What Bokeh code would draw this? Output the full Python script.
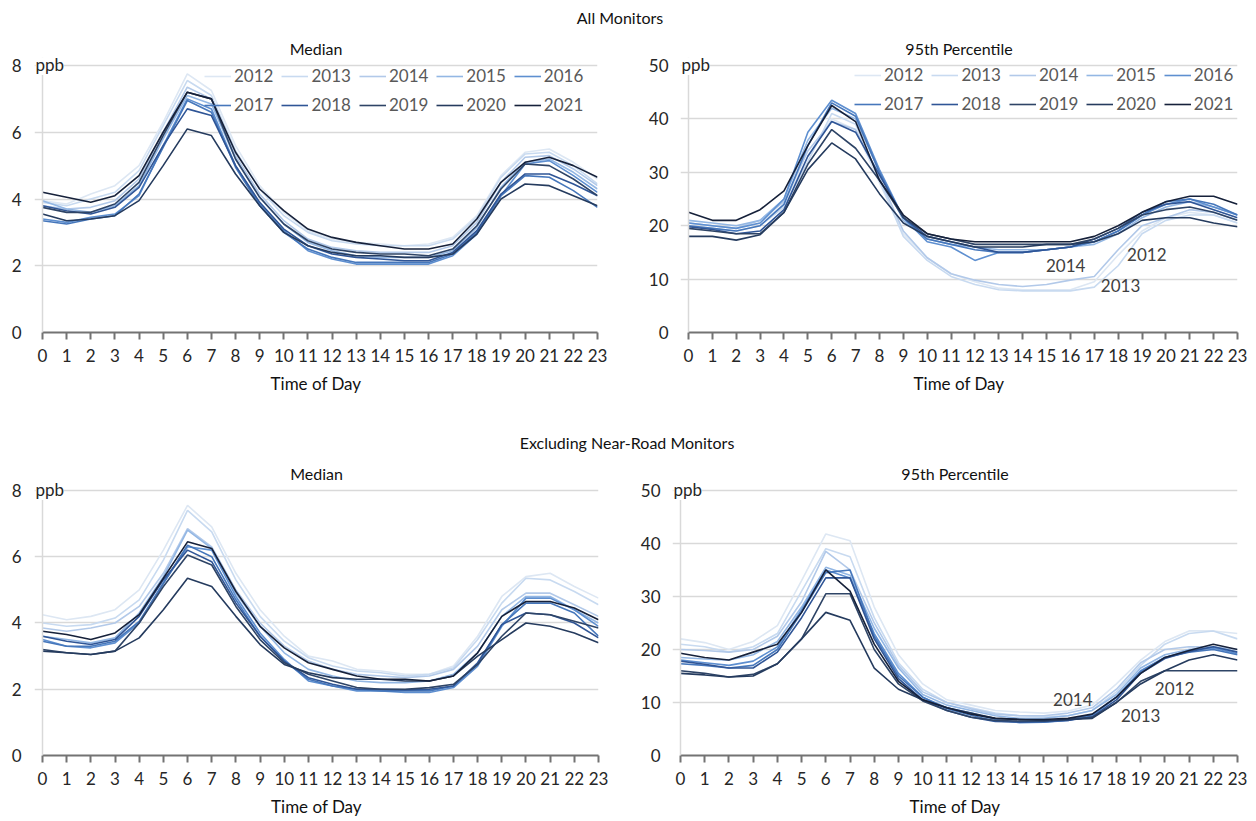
from bokeh.plotting import figure
from bokeh.models import Legend, LegendItem, Label, FixedTicker, Div, Span
from bokeh.layouts import column, row
from bokeh.embed import file_html
from bokeh.resources import INLINE

FONT = "Lato"

HOURS = [0, 1, 2, 3, 4, 5, 6, 7, 8, 9, 10, 11, 12, 13, 14, 15, 16, 17, 18, 19, 20, 21, 22, 23]
YEARS = ["2012", "2013", "2014", "2015", "2016", "2017", "2018", "2019", "2020", "2021"]
COLORS = ["#dde7f3", "#c8daf0", "#b2c9e9", "#93b7e4", "#5e8fd0", "#4677bb",
          "#2f5596", "#2e4466", "#253b5e", "#16213a"]

# All monitors - median (ppb)
all_median = {
    "2012": [3.95, 3.85, 4.15, 4.4, 5.0, 6.3, 7.75, 7.25, 5.6, 4.4, 3.6, 3.05, 2.8, 2.7, 2.65, 2.6, 2.65, 2.85, 3.5, 4.7, 5.4, 5.5, 5.1, 4.6],
    "2013": [3.9, 3.8, 4.0, 4.2, 4.85, 6.2, 7.55, 7.1, 5.45, 4.3, 3.5, 3.0, 2.75, 2.65, 2.6, 2.6, 2.6, 2.8, 3.45, 4.65, 5.35, 5.4, 5.0, 4.45],
    "2014": [3.8, 3.7, 3.75, 3.95, 4.6, 6.0, 7.35, 7.0, 5.3, 4.15, 3.35, 2.8, 2.55, 2.45, 2.4, 2.4, 2.4, 2.6, 3.3, 4.5, 5.25, 5.3, 4.9, 4.4],
    "2015": [3.95, 3.7, 3.6, 3.8, 4.4, 5.8, 7.1, 6.85, 5.2, 4.05, 3.25, 2.7, 2.45, 2.3, 2.25, 2.25, 2.25, 2.45, 3.15, 4.35, 5.1, 5.2, 4.8, 4.3],
    "2016": [3.4, 3.3, 3.45, 3.55, 4.1, 5.6, 7.0, 6.7, 5.0, 3.85, 3.05, 2.45, 2.2, 2.05, 2.05, 2.05, 2.05, 2.3, 2.95, 4.1, 5.05, 5.15, 4.7, 4.2],
    "2017": [3.35, 3.25, 3.4, 3.5, 4.15, 5.55, 6.95, 6.6, 4.95, 3.8, 3.0, 2.5, 2.25, 2.1, 2.1, 2.1, 2.1, 2.35, 3.0, 4.1, 4.7, 4.65, 4.25, 3.75],
    "2018": [3.8, 3.65, 3.55, 3.75, 4.35, 5.6, 6.7, 6.5, 5.0, 3.9, 3.1, 2.6, 2.35, 2.25, 2.2, 2.15, 2.15, 2.4, 3.05, 4.15, 4.75, 4.75, 4.45, 4.1],
    "2019": [3.75, 3.6, 3.6, 3.85, 4.5, 5.9, 7.2, 7.0, 5.2, 4.05, 3.25, 2.75, 2.5, 2.4, 2.35, 2.35, 2.3, 2.5, 3.2, 4.3, 5.05, 5.0, 4.6, 4.1],
    "2020": [3.55, 3.35, 3.4, 3.5, 3.95, 5.0, 6.1, 5.9, 4.75, 3.8, 3.0, 2.6, 2.4, 2.3, 2.3, 2.25, 2.25, 2.35, 2.95, 4.0, 4.45, 4.4, 4.1, 3.8],
    "2021": [4.2, 4.05, 3.9, 4.1, 4.7, 6.0, 7.2, 7.0, 5.4, 4.3, 3.65, 3.1, 2.85, 2.7, 2.6, 2.5, 2.5, 2.65, 3.4, 4.5, 5.1, 5.25, 5.0, 4.65],
}

# All monitors - 95th percentile (ppb)
all_p95 = {
    "2012": [20.5, 20, 19.5, 20.5, 24, 33, 40, 38, 28, 18.5, 14, 11, 9.5, 8.3, 8.0, 8.0, 8.0, 9.5, 14.5, 19, 21.5, 22.5, 22, 20.5],
    "2013": [20, 19.5, 19, 20, 23.5, 32, 41, 39, 28.5, 18, 13.5, 10.5, 9.0, 8.0, 7.8, 7.8, 7.8, 8.5, 12.5, 18.5, 21, 22, 22, 20.5],
    "2014": [20.5, 20, 19.5, 21, 24.5, 34, 39.5, 38, 29, 19, 14, 11, 9.8, 9.0, 8.6, 9.0, 9.8, 10.5, 15.5, 20, 21.5, 23, 22.5, 21],
    "2015": [21, 20.5, 20, 21, 25, 36, 42, 40, 30, 21, 17.5, 16.5, 16, 15.5, 15.5, 15.5, 16, 16.5, 18.5, 21.5, 23.5, 24.5, 23.5, 22],
    "2016": [20.5, 20, 19.5, 20.5, 25, 37.5, 43.5, 41, 30.5, 21.5, 17, 16, 13.5, 15, 15, 15.5, 16, 17, 19, 22, 24, 25, 23.5, 22],
    "2017": [20, 19.5, 19, 20, 24, 35, 43, 40.5, 30, 21.5, 17.5, 16.5, 15.5, 15, 15, 15.5, 16, 17, 19, 22, 24.5, 25, 24, 22],
    "2018": [19.8, 19.3, 18.5, 19, 23, 33, 39.5, 37.5, 29.5, 21.5, 18, 17, 16, 15, 15, 15.5, 16, 17.5, 19.5, 22.5, 24, 24.5, 23, 21.5],
    "2019": [19.5, 19, 18.5, 18.5, 22.5, 31.5, 38, 34.5, 28.5, 21.5, 18.5, 17.5, 16.5, 16.5, 16.5, 16.5, 16.5, 17.5, 19.5, 22, 23, 23.5, 22.5, 21],
    "2020": [18, 18, 17.3, 18.3, 22.5, 30.5, 35.5, 32.5, 26, 20.5, 18, 17, 16, 16, 16, 16.5, 16.5, 17, 18.5, 21, 21.5, 21.5, 20.5, 19.8],
    "2021": [22.5, 21, 21, 23, 26.5, 35, 42.5, 39.5, 28.5, 22, 18.5, 17.5, 17, 17, 17, 17, 17, 18, 20, 22.5, 24.5, 25.5, 25.5, 24],
}

# Excluding near-road monitors - median (ppb)
excl_median = {
    "2012": [4.25, 4.1, 4.2, 4.4, 5.0, 6.2, 7.55, 6.9, 5.5, 4.4, 3.6, 3.0, 2.85, 2.6, 2.55, 2.45, 2.45, 2.7, 3.6, 4.8, 5.4, 5.5, 5.1, 4.75],
    "2013": [4.0, 3.9, 3.95, 4.15, 4.7, 5.9, 7.4, 6.75, 5.3, 4.2, 3.45, 2.95, 2.7, 2.55, 2.5, 2.4, 2.45, 2.65, 3.5, 4.6, 5.35, 5.3, 4.95, 4.55],
    "2014": [3.85, 3.75, 3.85, 4.0, 4.5, 5.5, 6.85, 6.3, 5.0, 4.0, 3.3, 2.85, 2.6, 2.45, 2.4, 2.35, 2.4, 2.6, 3.3, 4.4, 4.9, 4.9, 4.55, 4.2],
    "2015": [3.6, 3.5, 3.4, 3.55, 4.3, 5.4, 6.8, 6.25, 4.9, 3.9, 3.1, 2.6, 2.4, 2.25, 2.2, 2.2, 2.25, 2.45, 3.1, 4.2, 4.8, 4.8, 4.4, 4.0],
    "2016": [3.5, 3.3, 3.25, 3.4, 4.0, 5.2, 6.3, 6.2, 4.8, 3.7, 2.9, 2.25, 2.1, 1.95, 1.95, 1.9, 1.9, 2.05, 2.7, 3.9, 4.75, 4.75, 4.4, 3.9],
    "2017": [3.45, 3.3, 3.3, 3.45, 4.05, 5.2, 6.35, 6.0, 4.7, 3.6, 2.85, 2.3, 2.1, 2.0, 1.95, 1.95, 1.95, 2.1, 2.75, 3.95, 4.6, 4.6, 4.3, 3.6],
    "2018": [3.6, 3.45, 3.35, 3.5, 4.2, 5.3, 6.2, 5.85, 4.6, 3.6, 2.85, 2.35, 2.15, 2.0, 2.0, 1.98, 2.0, 2.1, 2.8, 3.95, 4.3, 4.25, 4.0, 3.55],
    "2019": [3.2, 3.1, 3.05, 3.15, 4.0, 5.1, 6.05, 5.75, 4.5, 3.5, 2.8, 2.45, 2.25, 2.05, 2.0, 2.0, 2.05, 2.15, 2.75, 3.6, 4.3, 4.25, 4.05, 3.85],
    "2020": [3.15, 3.1, 3.05, 3.15, 3.55, 4.4, 5.35, 5.1, 4.2, 3.35, 2.75, 2.5, 2.35, 2.3, 2.3, 2.25, 2.25, 2.4, 3.0, 3.5, 4.0, 3.9, 3.7, 3.4],
    "2021": [3.75, 3.65, 3.5, 3.7, 4.25, 5.35, 6.45, 6.25, 4.95, 3.9, 3.25, 2.8, 2.6, 2.4, 2.3, 2.3, 2.25, 2.4, 3.1, 4.2, 4.65, 4.65, 4.45, 4.1],
}

# Excluding near-road monitors - 95th percentile (ppb)
excl_p95 = {
    "2012": [22, 21.3, 20, 21.5, 24.5, 33, 41.8, 40.5, 28, 19, 13.5, 10.5, 9.5, 8.5, 8.2, 8.0, 8.4, 9.5, 13.5, 18, 21.5, 23.5, 23.5, 23],
    "2013": [21, 20.5, 19.5, 20.5, 23, 31, 39, 37.5, 26, 17.5, 12.5, 10, 9, 8, 7.5, 7.3, 7.5, 8.5, 12, 17, 21, 23, 23.5, 22],
    "2014": [20, 19.8, 19.5, 20, 22.5, 29, 38.5, 35, 25, 17, 12, 10, 8.8, 7.8, 7.5, 7.5, 8, 9, 12.5, 17.5, 20, 20.5, 20.5, 20],
    "2015": [18.5, 18.2, 18, 19, 21.5, 28, 35.5, 34, 24, 16.5, 11.5, 9.5, 8.5, 7.5, 7.0, 7, 7.5, 8.5, 11.5, 16.5, 19, 20, 20.5, 19.5],
    "2016": [18, 17.5, 17, 17.8, 20.5, 27.5, 35, 33.5, 23, 15.5, 11, 9, 8, 6.8, 6.2, 6.3, 6.6, 7.5, 11, 16, 18.5, 19.8, 20.3, 19.2],
    "2017": [17.3, 17, 16.5, 17, 20, 27, 34.5, 35, 22.5, 15, 11, 8.8, 7.6, 6.5, 6.3, 6.3, 6.7, 7.7, 11, 15.8, 18.5, 19.5, 20, 19],
    "2018": [17.8, 17.2, 16.5, 16.5, 19.5, 26, 33.5, 33.5, 22, 14.5, 10.5, 8.5, 7.2, 6.4, 6.3, 6.4, 6.6, 7.3, 10.5, 15.5, 18.3, 19.6, 20.5, 19.5],
    "2019": [16, 15.5, 14.8, 15.3, 17.3, 22, 30.5, 30.5, 20, 13.5, 10.3, 8.5, 7.2, 6.6, 6.5, 6.5, 6.8, 7.2, 10, 14, 16, 16, 16, 16],
    "2020": [15.5, 15.2, 14.8, 15, 17.3, 22, 27, 25.5, 16.5, 12.5, 10.5, 9, 8, 7, 6.8, 6.6, 6.8, 7, 10, 13.5, 16, 18, 19, 18],
    "2021": [19.3, 18.5, 18, 19.5, 21, 27, 35, 31, 21, 14, 10.5, 9, 7.8, 7, 6.8, 6.8, 7, 7.8, 11, 15.5, 18.5, 19.8, 21, 20],
}

Y_TICKS_MEDIAN = [0, 2, 4, 6, 8]
Y_TICKS_P95 = [0, 10, 20, 30, 40, 50]
X_LABEL = "Time of Day"
UNIT = "ppb"


def make_panel(data, yticks, title, width, height, frame_left, frame_right,
               frame_top, axis_top, frame_bottom, fig_top,
               legend_pos=None, notes=(), label_standoff=13):
    """frame_* are pixel positions on the page; axis_top is where the top
    tick value sits; the frame extends a little above it and left of hour 0."""
    ymax = yticks[-1]
    x0_px = frame_left + 8
    px_per_hr = (frame_right - x0_px) / 23.0
    x_start = -8.0 / px_per_hr
    px_per_unit = (frame_bottom - axis_top) / float(ymax)
    y_end = ymax + (axis_top - frame_top) / px_per_unit
    off = 0 if frame_left < 628 else 628
    p = figure(width=width, height=height, x_range=(x_start, 23), y_range=(0, y_end),
               output_backend="svg", toolbar_location=None,
               min_border_left=frame_left - off,
               min_border_right=width - (frame_right - off),
               min_border_top=frame_top - fig_top,
               min_border_bottom=fig_top + height - frame_bottom, title=title)
    p.outline_line_color = None
    p.background_fill_color = "white"
    p.border_fill_color = "white"
    p.title.align = "center"
    p.title.text_font = FONT
    p.title.text_font_size = "16px"
    p.title.text_font_style = "normal"
    p.title.text_color = "#111111"
    p.title.standoff = 0

    # grid
    p.xgrid.grid_line_color = None
    p.ygrid.grid_line_color = "#d9d9d9"
    p.ygrid.grid_line_width = 1.5
    p.ygrid.ticker = FixedTicker(ticks=yticks)
    p.ygrid.bounds = (0, 23)

    # vertical axis line at hour 0
    p.add_layout(Span(location=0, dimension="height", line_color="#d9d9d9", line_width=1.5))

    rends = []
    for yr, col in zip(YEARS, COLORS):
        rends.append(p.line(HOURS, data[yr], line_color=col, line_width=1.6))

    # x axis
    xa = p.xaxis[0]
    xa.ticker = FixedTicker(ticks=HOURS)
    xa.bounds = (0, 23)
    xa.axis_line_color = "#737373"
    xa.axis_line_width = 2
    xa.major_tick_line_color = "#737373"
    xa.major_tick_line_width = 2
    xa.major_tick_out = 7
    xa.major_tick_in = 0
    xa.minor_tick_line_color = None
    xa.major_label_text_font = FONT
    xa.major_label_text_font_size = "17px"
    xa.major_label_text_color = "#262626"
    xa.major_label_standoff = 9
    xa.axis_label = X_LABEL
    xa.axis_label_text_font = FONT
    xa.axis_label_text_font_size = "17px"
    xa.axis_label_text_font_style = "normal"
    xa.axis_label_text_color = "#111111"
    xa.axis_label_standoff = 8

    # y axis
    ya = p.yaxis[0]
    ya.ticker = FixedTicker(ticks=yticks)
    ya.axis_line_color = None
    ya.major_tick_line_color = None
    ya.minor_tick_line_color = None
    ya.major_tick_out = 0
    ya.major_tick_in = 0
    ya.major_label_text_font = FONT
    ya.major_label_text_font_size = "17px"
    ya.major_label_text_color = "#262626"
    ya.major_label_standoff = label_standoff

    p.add_layout(Label(x=0, y=ymax, text=UNIT, x_offset=-7, y_offset=1,
                       text_baseline="middle", text_align="left",
                       text_font=FONT, text_font_size="17px", text_color="#262626",
                       background_fill_color="white"))

    if legend_pos is not None:
        items = [LegendItem(label=YEARS[i], renderers=[rends[i]]) for i in range(10)]
        lg = Legend(items=items, orientation="horizontal", nrows=2, location=legend_pos,
                    glyph_width=27, glyph_height=18, label_height=18,
                    label_standoff=3, spacing=8, padding=0, margin=0,
                    border_line_color=None, background_fill_alpha=0,
                    label_text_font=FONT, label_text_font_size="17px",
                    label_text_color="#595959")
        p.add_layout(lg)

    for txt, hx, vy in notes:
        p.add_layout(Label(x=hx, y=vy, text=txt, text_align="center",
                           text_baseline="middle", text_font=FONT,
                           text_font_size="17px", text_color="#404040"))
    return p


def header(text, height, width):
    return Div(text=('<div style="width:%dpx;text-align:center;font-family:Lato;'
                     'font-size:16px;color:#111;line-height:20px;padding-top:8px;">%s</div>')
               % (width, text),
               width=1256, height=height, margin=0)


# top row spans page y 30..425, bottom row 458..821
tl = make_panel(all_median, Y_TICKS_MEDIAN, "Median", 628, 395,
                34, 597, 57, 65, 332, 30, legend_pos=(170, 217))
tr = make_panel(all_p95, Y_TICKS_P95, "95th Percentile", 628, 395,
                680, 1237, 57, 65, 333, 30, legend_pos=(174, 218), label_standoff=12,
                notes=(("2014", 15.8, 12.5), ("2012", 19.2, 14.6), ("2013", 18.1, 8.8)))
bl_ = make_panel(excl_median, Y_TICKS_MEDIAN, "Median", 628, 363,
                 34, 598, 481, 489, 755, 458)
br_ = make_panel(excl_p95, Y_TICKS_P95, "95th Percentile", 628, 363,
                 672, 1237, 482, 490, 757, 458, label_standoff=12,
                 notes=(("2014", 16.2, 10.5), ("2012", 20.4, 12.7), ("2013", 19.0, 7.5)))

layout = column(header("All Monitors", 30, 1240),
                row(tl, tr, spacing=0),
                header("Excluding Near-Road Monitors", 33, 1254),
                row(bl_, br_, spacing=0),
                spacing=0)

open("out.html", "w").write(file_html(layout, INLINE))
